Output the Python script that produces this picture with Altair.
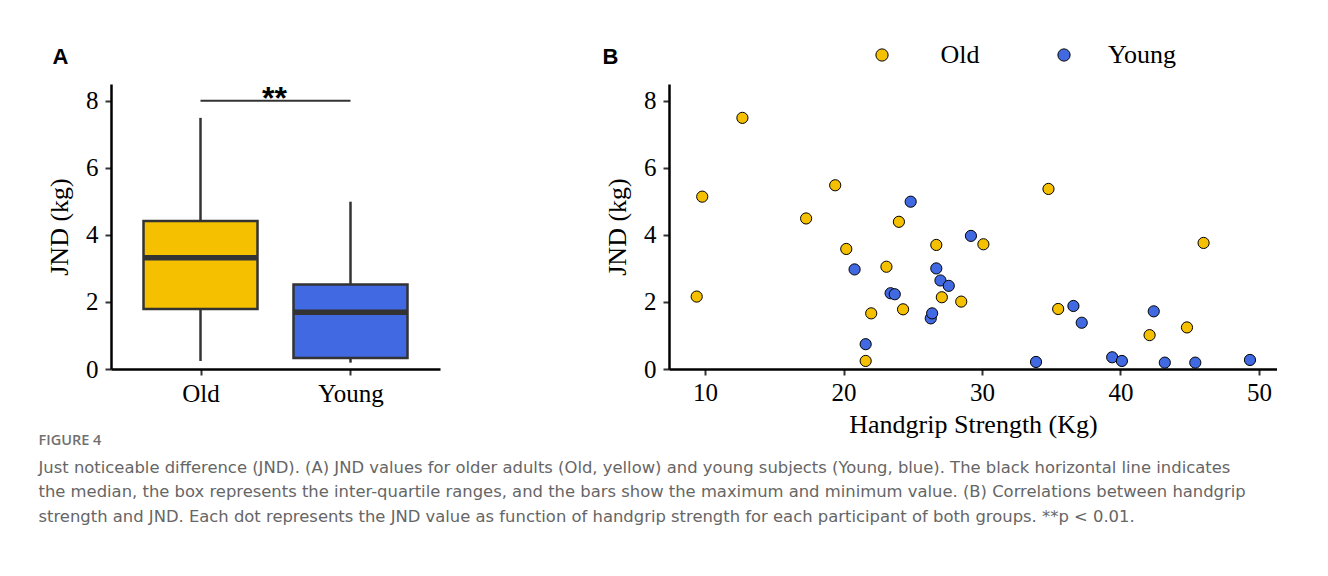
import altair as alt
import pandas as pd

# ---- data ----
groups = ["Old", "Young"]
old_grip = [9.4, 9.8, 12.7, 17.3, 19.4, 20.2, 21.6, 22.0, 23.1, 24.0,
            24.3, 26.7, 27.1, 28.5, 30.1, 34.8, 35.5, 42.1, 44.8, 46.0]
old_jnd = [2.16, 5.14, 7.49, 4.49, 5.48, 3.58, 0.24, 1.66, 3.05, 4.39,
           1.78, 3.70, 2.14, 2.01, 3.72, 5.37, 1.79, 1.01, 1.24, 3.76]
young_grip = [20.8, 21.6, 23.4, 23.7, 24.85, 26.3, 26.4, 26.7, 27.0, 27.6,
              29.2, 33.9, 36.6, 37.2, 39.4, 40.1, 42.4, 43.2, 45.4, 49.35]
young_jnd = [2.97, 0.74, 2.26, 2.23, 4.99, 1.51, 1.66, 3.00, 2.64, 2.48,
             3.97, 0.21, 1.88, 1.38, 0.35, 0.24, 1.72, 0.19, 0.19, 0.27]
y_ticks = [0, 2, 4, 6, 8]
x_ticks = [10, 20, 30, 40, 50]
sig_label = "**"
caption_head = "FIGURE 4"
caption_lines = [
    "Just noticeable difference (JND). (A) JND values for older adults (Old, yellow) and young subjects (Young, blue). The black horizontal line indicates",
    "the median, the box represents the inter-quartile ranges, and the bars show the maximum and minimum value. (B) Correlations between handgrip",
    "strength and JND. Each dot represents the JND value as function of handgrip strength for each participant of both groups. **p < 0.01.",
]

df = pd.DataFrame({
    "group": ["Old"] * len(old_jnd) + ["Young"] * len(young_jnd),
    "grip": old_grip + young_grip,
    "jnd": old_jnd + young_jnd,
})
sig = pd.DataFrame({"x1": ["Old"], "x2": ["Young"], "y": [8.0]})

SERIF = "Liberation Serif"
colors = alt.Scale(domain=groups, range=["#F4C000", "#4169E1"])
yscale = alt.Scale(domain=[0, 8.5], nice=False, zero=False)
yaxis = alt.Axis(values=y_ticks, title="JND (kg)", format="d")

# ---- panel A: box plot ----
xA = alt.X("group:N", scale=alt.Scale(type="point", padding=0.5967),
           axis=alt.Axis(title=None, labelAngle=0, labelPadding=6))
base = alt.Chart(df).transform_aggregate(
    q1="q1(jnd)", q3="q3(jnd)", med="median(jnd)", lo="min(jnd)", hi="max(jnd)",
    groupby=["group"])
whisk = base.mark_rule(color="#333333", strokeWidth=2.5).encode(
    x=xA, y=alt.Y("lo:Q", scale=yscale, axis=yaxis), y2="hi:Q")
box = base.mark_bar(size=114, stroke="#333333", strokeWidth=2.5, opacity=1).encode(
    x=xA, y=alt.Y("q1:Q", scale=yscale, axis=yaxis), y2="q3:Q",
    fill=alt.Fill("group:N", scale=colors, legend=None))
med = base.mark_tick(size=114, thickness=5.5, color="#333333", opacity=1).encode(
    x=xA, y=alt.Y("med:Q", scale=yscale, axis=yaxis))
sig_rule = alt.Chart(sig).mark_rule(color="#333333", strokeWidth=2).encode(
    x=alt.X("x1:N", scale=alt.Scale(type="point", padding=0.5967)), x2="x2:N",
    y=alt.Y("y:Q", scale=yscale))
sig_text = alt.Chart(sig).mark_text(
    text=sig_label, font="Liberation Sans", fontWeight="bold", fontSize=32,
    dx=74, dy=8, baseline="alphabetic", color="black").encode(
    x=alt.X("x1:N"), y=alt.Y("y:Q", scale=yscale))

panelA = alt.layer(whisk, box, med, sig_rule, sig_text).properties(
    width=329, height=285,
    title=alt.TitleParams("A", anchor="start", dx=6, font="Liberation Sans",
                          fontSize=22, fontWeight="bold", color="black", offset=14))

# ---- panel B: scatter ----
panelB = alt.Chart(df).mark_circle(size=125, stroke="black", strokeWidth=1, opacity=1).encode(
    x=alt.X("grip:Q", scale=alt.Scale(domain=[7.4, 51.3], nice=False, zero=False),
            axis=alt.Axis(values=x_ticks, title="Handgrip Strength (Kg)", labelPadding=5,
                          titlePadding=6)),
    y=alt.Y("jnd:Q", scale=yscale, axis=yaxis),
    fill=alt.Fill("group:N", scale=colors, legend=alt.Legend(
        orient="none", legendX=200, legendY=-42, direction="horizontal", title=None,
        labelFont=SERIF, labelFontSize=26, labelColor="black", labelAlign="center",
        symbolType="circle", symbolSize=150, symbolStrokeColor="black",
        symbolStrokeWidth=1, symbolOpacity=1, labelOffset=65, columnPadding=71)),
).properties(
    width=608, height=285,
    title=alt.TitleParams("B", anchor="start", dx=-2, dy=41, font="Liberation Sans",
                          fontSize=22, fontWeight="bold", color="black", offset=14))

chart = alt.hconcat(panelA, panelB, spacing=229, bounds="flush").resolve_scale(
    fill="independent").resolve_legend(fill="independent").properties(
    padding={"left": 30, "top": 34, "right": 0, "bottom": 0},
    title=alt.TitleParams(
        caption_head, subtitle=caption_lines, orient="bottom", anchor="start",
        font="Open Sans", fontSize=14.5, fontWeight=600, color="#707070",
        subtitleFont="DejaVu Sans", subtitleFontSize=16.4, subtitleColor="#666666",
        subtitleLineHeight=24.5, subtitlePadding=11, offset=-3, dx=-8),
).configure_axis(
    grid=False, domainColor="black", domainWidth=2.5, tickColor="#333333",
    tickWidth=2, tickSize=6, labelFont=SERIF, labelFontSize=25, labelColor="black",
    labelPadding=7, titleFont=SERIF, titleFontSize=26, titleFontWeight="normal",
    titleColor="black", titlePadding=13,
).configure_view(stroke=None)

chart.save("out.html", embed_options={"renderer": "svg", "actions": False})
